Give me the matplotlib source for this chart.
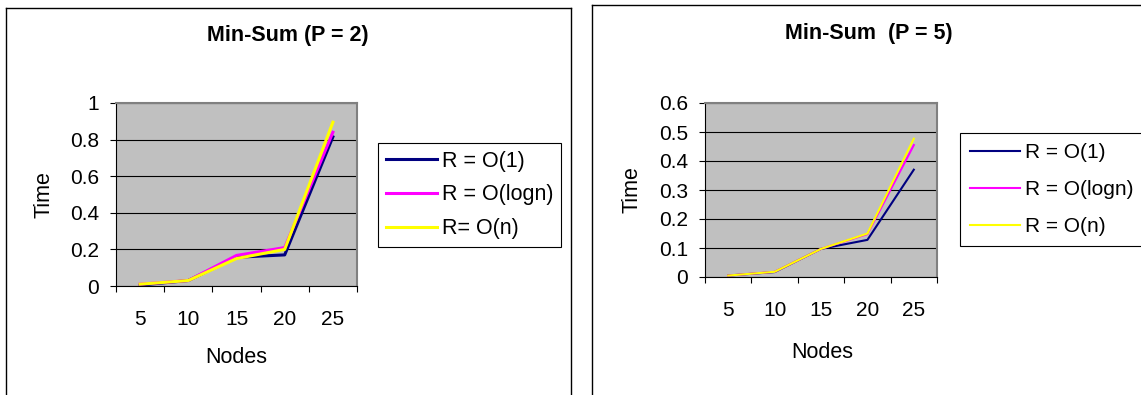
import matplotlib.pyplot as plt
from matplotlib.lines import Line2D

plt.rcParams['font.family'] = ['Liberation Sans', 'DejaVu Sans']

# data
nodes = ['5', '10', '15', '20', '25']
p2_const = [0.005, 0.03, 0.157, 0.17, 0.815]
p2_logn = [0.01, 0.03, 0.167, 0.21, 0.84]
p2_n = [0.01, 0.03, 0.15, 0.2, 0.895]
p5_const = [0.005, 0.017, 0.097, 0.128, 0.37]
p5_logn = [0.005, 0.018, 0.097, 0.148, 0.455]
p5_n = [0.005, 0.018, 0.097, 0.15, 0.477]
labels_p2 = ['R = O(1)', 'R = O(logn)', 'R= O(n)']
labels_p5 = ['R = O(1)', 'R = O(logn)', 'R = O(n)']
colors = ['#000080', '#FF00FF', '#FFFF00']

W, H = 1141, 395
fig = plt.figure(figsize=(W / 100, H / 100), dpi=100)


def box(x0, y0, x1, y1):
    # rectangle in pixel coords (top-left origin)
    return [x0 / W, 1 - y1 / H, (x1 - x0) / W, (y1 - y0) / H]


# panel borders
fig.add_artist(Line2D([6 / W, 6 / W], [0, 1 - 8 / H], color='black', lw=1))
fig.add_artist(Line2D([6 / W, 571 / W], [1 - 8 / H, 1 - 8 / H], color='black', lw=1))
fig.add_artist(Line2D([571 / W, 571 / W], [0, 1 - 8 / H], color='black', lw=1))
fig.add_artist(Line2D([592 / W, 592 / W], [0, 1 - 5 / H], color='black', lw=1))
fig.add_artist(Line2D([592 / W, 1], [1 - 5 / H, 1 - 5 / H], color='black', lw=1))


def panel(rect, series, labels, ymax, ystep, lw, title, title_xy, leg_xy,
          ylab_x, xlab_xy, legfs, legspace, legpad):
    ax = fig.add_axes(box(*rect))
    ax.set_facecolor('#C0C0C0')
    x = range(1, len(nodes) + 1)
    for vals, c, lab in zip(series, colors, labels):
        ax.plot(x, vals, color=c, lw=lw, label=lab)
    ax.set_xlim(0.5, len(nodes) + 0.5)
    ax.set_ylim(0, ymax)
    yt = [round(i * ystep, 2) for i in range(int(round(ymax / ystep)) + 1)]
    ax.set_yticks(yt)
    ax.set_yticklabels(['%g' % v for v in yt])
    ax.yaxis.grid(True, color='black', lw=0.8)
    ax.set_axisbelow(True)
    # category boundaries get ticks, centres get the labels
    ax.set_xticks([i + 0.5 for i in range(0, len(nodes) + 1)])
    ax.set_xticklabels([])
    ax.set_xticks(list(x), minor=True)
    ax.set_xticklabels(nodes, minor=True)
    ax.tick_params(axis='x', which='minor', length=0, pad=17, labelsize=15)
    ax.tick_params(axis='x', which='major', length=4, width=0.8, direction='out')
    ax.tick_params(axis='y', length=4, width=0.8, pad=8, labelsize=15)
    for s in ['top', 'right']:
        ax.spines[s].set_color('#808080')
        ax.spines[s].set_linewidth(1.5)
    for s in ['left', 'bottom']:
        ax.spines[s].set_color('black')
        ax.spines[s].set_linewidth(0.8)
    ax.set_ylabel('Time', fontsize=15.5)
    ax.yaxis.set_label_coords(ylab_x, 0.5)
    ax.set_xlabel('Nodes', fontsize=15.5)
    ax.xaxis.set_label_coords(*xlab_xy)
    fig.text(title_xy[0] / W, 1 - title_xy[1] / H, title, fontsize=15.5,
             fontweight='bold', ha='center', va='center')
    leg = ax.legend(loc='upper left', bbox_to_anchor=(leg_xy[0] / W, 1 - leg_xy[1] / H),
                    bbox_transform=fig.transFigure, fontsize=legfs, frameon=True,
                    fancybox=False, edgecolor='black', framealpha=1,
                    handlelength=2.4, handletextpad=0.2, borderpad=legpad,
                    labelspacing=legspace, borderaxespad=0)
    leg.get_frame().set_linewidth(0.8)
    return ax


panel((116, 103, 357, 286), [p2_const, p2_logn, p2_n], labels_p2, 1.0, 0.2, 2.2,
      'Min-Sum (P = 2)', (288, 35), (378, 143), -0.257, (0.498, -0.333),
      15.5, 0.6, 0.35)
panel((705, 103, 937, 277), [p5_const, p5_logn, p5_n], labels_p5, 0.6, 0.1, 1.5,
      'Min-Sum  (P = 5)', (869, 33), (960, 133), -0.27, (0.504, -0.374),
      15, 0.85, 0.5)

fig.savefig('out.png', dpi=100)
